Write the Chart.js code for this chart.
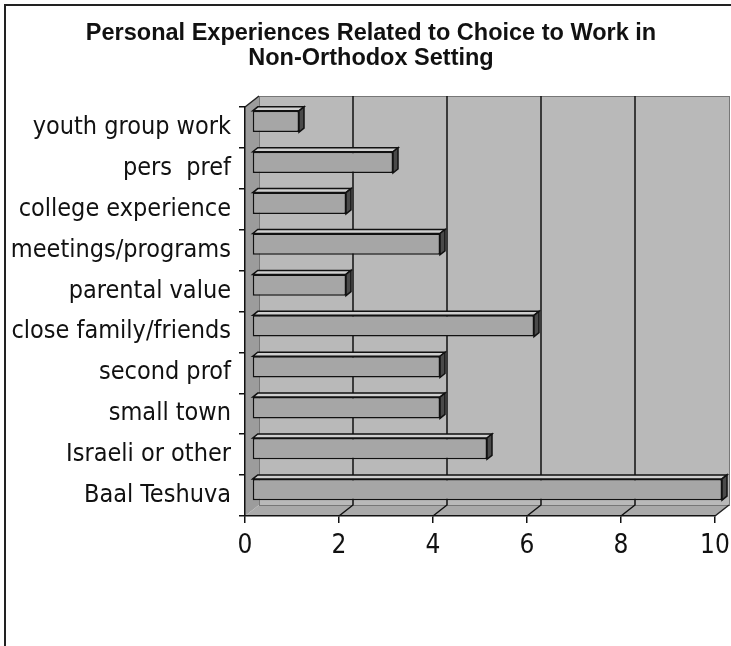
<!DOCTYPE html>
<html>
<head>
<meta charset="utf-8">
<script src="https://cdn.jsdelivr.net/npm/chart.js@4/dist/chart.umd.min.js"></script>
<style>
  html, body { margin: 0; padding: 0; background: #fff; }
  #wrap { position: relative; width: 731px; height: 646px; }
</style>
</head>
<body>
<div id="wrap"><canvas id="expChart" width="731" height="646"></canvas></div>
<script>
// dados do gráfico
const categories = ['youth group work', 'pers  pref', 'college experience', 'meetings/programs',
    'parental value', 'close family/friends', 'second prof', 'small town', 'Israeli or other', 'Baal Teshuva'];
const counts = [1, 3, 2, 4, 2, 6, 4, 4, 5, 10];
const xTicks = [0, 2, 4, 6, 8, 10];
const chartTitle = ['Personal Experiences Related to Choice to Work in', 'Non-Orthodox Setting'];

const WALL_DX = 14, WALL_DY = -11;   // profundidade da parede
const BAR_DX = 7, BAR_DY = -6;       // barras no meio da profundidade
const CAP_DX = 5, CAP_DY = -4;       // espessura 3D da barra

const box3d = {
    id: 'box3d',
    beforeDraw(chart) {
        const { ctx, chartArea: a, width, height } = chart;
        ctx.save();
        // moldura
        ctx.strokeStyle = '#222';
        ctx.lineWidth = 2;
        ctx.beginPath();
        ctx.moveTo(5, height);
        ctx.lineTo(5, 5);
        ctx.lineTo(width, 5);
        ctx.stroke();
        // título
        ctx.fillStyle = '#111';
        ctx.font = 'bold 23.5px "Liberation Sans", Arial, sans-serif';
        ctx.textAlign = 'center';
        ctx.textBaseline = 'alphabetic';
        ctx.fillText(chartTitle[0], 371, 40);
        ctx.fillText(chartTitle[1], 371, 65);
        // parede lateral
        ctx.fillStyle = '#9c9c9c';
        ctx.beginPath();
        ctx.moveTo(a.left, a.top);
        ctx.lineTo(a.left + WALL_DX, a.top + WALL_DY);
        ctx.lineTo(a.left + WALL_DX, a.bottom + WALL_DY);
        ctx.lineTo(a.left, a.bottom);
        ctx.closePath();
        ctx.fill();
        // piso
        ctx.fillStyle = '#a9a9a9';
        ctx.beginPath();
        ctx.moveTo(a.left, a.bottom);
        ctx.lineTo(a.left + WALL_DX, a.bottom + WALL_DY);
        ctx.lineTo(a.right + WALL_DX, a.bottom + WALL_DY);
        ctx.lineTo(a.right, a.bottom);
        ctx.closePath();
        ctx.fill();
        // parede do fundo
        ctx.fillStyle = '#b9b9b9';
        ctx.fillRect(a.left + WALL_DX, a.top + WALL_DY, a.right - a.left, a.bottom - a.top);
        ctx.strokeStyle = '#777';
        ctx.lineWidth = 1;
        ctx.strokeRect(a.left + WALL_DX + 0.5, a.top + WALL_DY + 0.5, a.right - a.left, a.bottom - a.top);
        // grade
        const xs = chart.scales.x;
        ctx.strokeStyle = '#111';
        ctx.lineWidth = 1.5;
        xTicks.forEach(v => {
            if (v === 0 || v === 10) return;
            const px = xs.getPixelForValue(v);
            ctx.beginPath();
            ctx.moveTo(px, a.bottom);
            ctx.lineTo(px + WALL_DX, a.bottom + WALL_DY);
            ctx.lineTo(px + WALL_DX, a.top + WALL_DY);
            ctx.stroke();
        });
        // arestas
        ctx.strokeStyle = '#222';
        ctx.beginPath();
        ctx.moveTo(a.left, a.top);
        ctx.lineTo(a.left + WALL_DX, a.top + WALL_DY);
        ctx.moveTo(a.right, a.bottom);
        ctx.lineTo(a.right + WALL_DX, a.bottom + WALL_DY);
        ctx.stroke();
        ctx.restore();
    },
    beforeDatasetsDraw(chart) {
        chart.ctx.save();
        chart.ctx.translate(BAR_DX, BAR_DY);
    },
    afterDatasetsDraw(chart) {
        const { ctx } = chart;
        const meta = chart.getDatasetMeta(0);
        ctx.lineWidth = 1.5;
        ctx.strokeStyle = '#111';
        meta.data.forEach(bar => {
            const p = bar.getProps(['x', 'y', 'base', 'height'], true);
            const top = p.y - p.height / 2, bot = p.y + p.height / 2;
            // face de cima
            ctx.fillStyle = '#cfcfcf';
            ctx.beginPath();
            ctx.moveTo(p.base, top);
            ctx.lineTo(p.base + CAP_DX, top + CAP_DY);
            ctx.lineTo(p.x + CAP_DX, top + CAP_DY);
            ctx.lineTo(p.x, top);
            ctx.closePath();
            ctx.fill();
            ctx.stroke();
            // face lateral
            ctx.fillStyle = '#4a4a4a';
            ctx.beginPath();
            ctx.moveTo(p.x, top);
            ctx.lineTo(p.x + CAP_DX, top + CAP_DY);
            ctx.lineTo(p.x + CAP_DX, bot + CAP_DY);
            ctx.lineTo(p.x, bot);
            ctx.closePath();
            ctx.fill();
            ctx.stroke();
        });
        ctx.restore();
    }
};

const ctx = document.getElementById('expChart');
new Chart(ctx, {
    type: 'bar',
    data: {
        labels: categories,
        datasets: [{
            data: counts,
            backgroundColor: '#a6a6a6',
            borderColor: '#111',
            borderWidth: 1.5,
            borderSkipped: false,
            categoryPercentage: 1,
            barPercentage: 0.52
        }]
    },
    options: {
        indexAxis: 'y',
        responsive: false,
        animation: false,
        events: [],
        layout: { padding: { left: 0, right: 16, top: 107, bottom: 0 } },
        plugins: {
            legend: { display: false },
            tooltip: { enabled: false },
            title: { display: false }
        },
        scales: {
            x: {
                min: 0,
                max: 10,
                afterFit: s => { s.height = 130; s.paddingRight = 0; s.paddingLeft = 0; },
                afterBuildTicks: s => { s.ticks = xTicks.map(v => ({ value: v })); },
                grid: { drawOnChartArea: false, color: '#111', tickLength: 7, lineWidth: 1.5 },
                border: { color: '#111', width: 1.5 },
                ticks: {
                    color: '#111',
                    padding: 8,
                    font: { family: 'DejaVu Sans Condensed, DejaVu Sans', size: 26 }
                }
            },
            y: {
                afterFit: s => { s.width = 245; s.paddingTop = 0; s.paddingBottom = 0; },
                grid: { drawOnChartArea: false, color: '#111', tickLength: 6, lineWidth: 1.5 },
                border: { color: '#111', width: 1.5 },
                ticks: {
                    color: '#111',
                    padding: 8,
                    font: { family: 'DejaVu Sans Condensed, DejaVu Sans', size: 25 }
                }
            }
        }
    },
    plugins: [box3d]
});
</script>
</body>
</html>
